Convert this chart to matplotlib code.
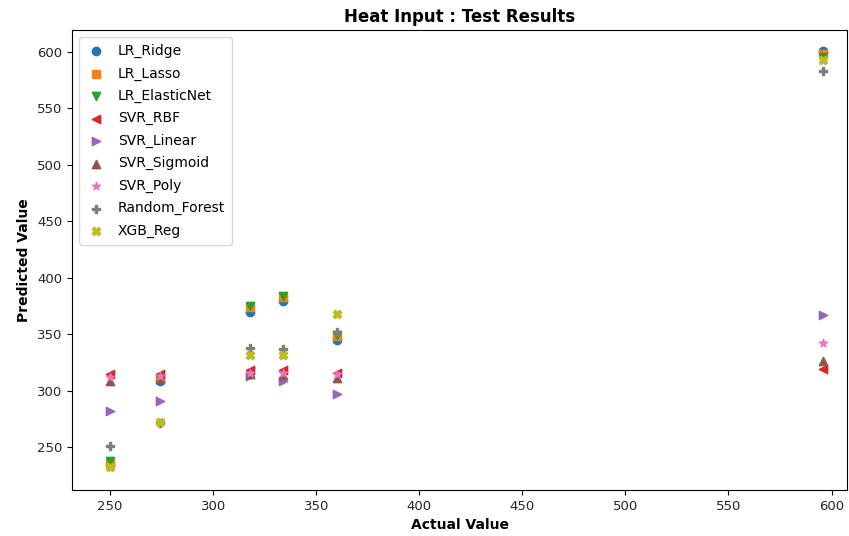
import matplotlib.pyplot as plt
import matplotlib as mpl

mpl.rcParams['font.family'] = ['DejaVu Sans']

# actual values (x) for the test samples
actual = [250, 274, 318, 334, 360, 596]

# predictions per model
lr_ridge = [234, 309, 370, 379, 345, 601]
lr_lasso = [236, 311, 374, 383, 348, 598]
lr_elastic = [238, 310, 375, 384, 349, 596]
svr_rbf = [315, 315, 318, 318, 316, 319]
svr_linear = [282, 291, 313, 309, 297, 367]
svr_sigmoid = [309, 310, 315, 314, 311, 326]
svr_poly = [312, 313, 316, 316, 315, 342]
random_forest = [251, 271, 338, 337, 352, 583]
xgb_reg = [232, 272, 332, 332, 368, 593]

models = ['LR_Ridge', 'LR_Lasso', 'LR_ElasticNet', 'SVR_RBF', 'SVR_Linear',
          'SVR_Sigmoid', 'SVR_Poly', 'Random_Forest', 'XGB_Reg']
preds = [lr_ridge, lr_lasso, lr_elastic, svr_rbf, svr_linear,
         svr_sigmoid, svr_poly, random_forest, xgb_reg]
markers = ['o', 's', 'v', '<', '>', '^', '*', 'P', 'X']

fig = plt.figure(figsize=(8.49, 5.36), dpi=100)
ax = fig.add_axes([72 / 849, 1 - 490 / 536, 775 / 849, 460 / 536])

for name, y, m in zip(models, preds, markers):
    ax.scatter(actual, y, marker=m, s=36, label=name)

ax.set_xlim(231.5, 607.5)
ax.set_ylim(212, 619.5)
ax.set_xticks([250, 300, 350, 400, 450, 500, 550, 600])
ax.set_yticks([250, 300, 350, 400, 450, 500, 550, 600])
ax.tick_params(labelsize=9.5, labelcolor='#262626')

ax.set_title('Heat Input : Test Results', fontweight='bold', fontsize=12)
ax.set_xlabel('Actual Value', fontweight='bold', fontsize=10)
ax.set_ylabel('Predicted Value', fontweight='bold', fontsize=10)
ax.legend(loc='upper left', fontsize=10, handlelength=1.4,
          handletextpad=0.9, borderpad=0.5, labelspacing=0.6)

plt.savefig('out.png', dpi=100)
